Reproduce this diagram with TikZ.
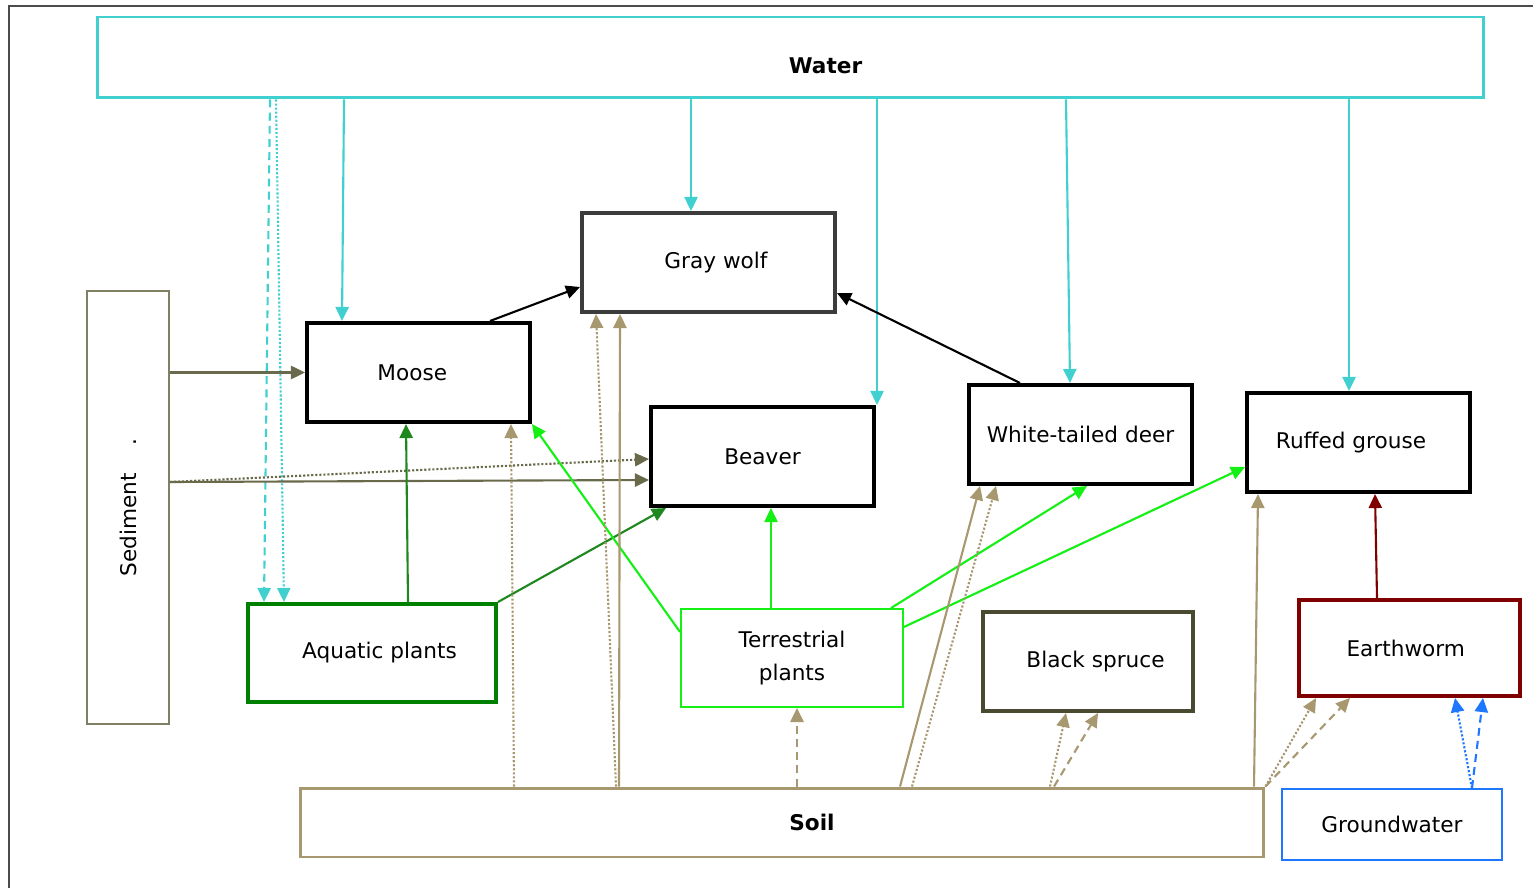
\documentclass[tikz,border=0pt]{standalone}
\usepackage{fontspec}
\setmainfont{DejaVu Sans}
\usetikzlibrary{arrows.meta}
\newcommand\fsz{\fontsize{12.3}{19}\selectfont}
\definecolor{watercol}{RGB}{64,208,208}
\definecolor{wolfcol}{RGB}{60,60,60}
\definecolor{sedcol}{RGB}{128,128,100}
\definecolor{sedarr}{RGB}{105,105,75}
\definecolor{aqcol}{RGB}{0,128,0}
\definecolor{aqarr}{RGB}{30,135,30}
\definecolor{terrcol}{RGB}{20,240,20}
\definecolor{sprucecol}{RGB}{74,74,50}
\definecolor{wormcol}{RGB}{128,0,0}
\definecolor{soilcol}{RGB}{168,152,112}
\definecolor{gwcol}{RGB}{30,120,255}
\begin{document}
\begin{tikzpicture}[x=0.02cm,y=-0.02cm,
  every node/.style={font=\fsz},
  box/.style={draw,line width=2.3pt,minimum width=4.46cm,minimum height=1.98cm,inner sep=0pt},
  con/.style={line width=1.2pt,-{Triangle[length=8pt,width=7.5pt]}},
  dotln/.style={dash pattern=on 1.2pt off 1.1pt},
  dashln/.style={dash pattern=on 4.5pt off 3pt}]
\useasboundingbox (0,0) rectangle (1533,888);
\draw[line width=1.4pt,black!70] (9,888) -- (9,6) -- (1533,6);

\node[box,draw=watercol,line width=1.7pt,minimum width=27.74cm,minimum height=1.62cm,
  label={[xshift=0.7cm,yshift=-0.17cm,font=\fsz\bfseries]center:Water}] (water) at (790.5,57.5) {};
\node[box,draw=wolfcol,minimum width=5.06cm] (wolf) at (708.5,262.5) {\hspace{0.3cm}Gray wolf};
\node[box] (moose) at (418.5,372.5) {Moose\kern0.25cm};
\node[box] (beaver) at (762.5,456.5) {Beaver};
\node[box] (deer) at (1080.5,434.5) {White-tailed deer};
\node[box] (grouse) at (1358.5,442.5) {Ruffed grouse\kern0.3cm};
\node[box,draw=sedcol,line width=1.1pt,minimum width=1.64cm,minimum height=8.66cm,
  label={[rotate=90]center:Sediment\hspace{1.3em}.}] (sediment) at (128,507.5) {};
\node[box,draw=aqcol,minimum width=4.96cm,minimum height=1.96cm] (aquatic) at (372,653) {\hspace{0.3cm}Aquatic plants};
\node[box,draw=terrcol,line width=1.1pt,minimum width=4.44cm,minimum height=1.96cm,align=center] (terr) at (792,658) {Terrestrial\\plants};
\node[box,draw=sprucecol,minimum width=4.2cm] (spruce) at (1088,661.5) {\hspace{0.3cm}Black spruce};
\node[box,draw=wormcol,minimum width=4.42cm,minimum height=1.92cm] (worm) at (1409.5,648) {Earthworm\kern0.15cm};
\node[box,draw=soilcol,line width=1.7pt,minimum width=19.28cm,minimum height=1.38cm,
  label={[xshift=0.6cm,font=\fsz\bfseries]center:Soil}] (soil) at (782,822.5) {};
\node[box,draw=gwcol,line width=1.1pt,minimum width=4.4cm,minimum height=1.42cm] (ground) at (1392,824.5) {Groundwater};

% water
\draw[con,watercol,dashln] (water.south -| 270,0) -- (aquatic.north -| 264,0);
\draw[con,watercol,dotln] (water.south -| 276,0) -- (aquatic.north -| 284,0);
\draw[con,watercol] (water.south -| 344,0) -- (moose.north -| 342,0);
\draw[con,watercol] (water.south -| 1066,0) -- (deer.north -| 1070,0);
\foreach \x/\n in {691/wolf,877/beaver,1349/grouse}
  \draw[con,watercol] (water.south -| \x,0) -- (\n.north -| \x,0);

% predators
\draw[con,black] (moose.north -| 490,0) -- (wolf.west |- 0,287);
\draw[con,black] (deer.north -| 1020,0) -- (wolf.east |- 0,293);

% sediment
\draw[con,sedarr] (sediment.east |- moose.west) -- (moose.west);
\draw[con,sedarr] (sediment.east |- 0,482) -- (beaver.west |- 0,480);
\draw[con,sedarr,dotln] (sediment.east |- 0,482) -- (beaver.west |- 0,459);

% plants
\draw[con,aqarr] (aquatic.north -| 408,0) -- (moose.south -| 406,0);
\draw[con,aqarr] (aquatic.north east) -- (beaver.south -| 666,0);
\draw[con,terrcol] (terr.west |- 0,632) -- (moose.south east);
\draw[con,terrcol] (terr.north -| 771,0) -- (beaver.south -| 771,0);
\draw[con,terrcol] (terr.north -| 891,0) -- (deer.south -| 1087,0);
\draw[con,terrcol] (terr.east |- 0,627) -- (grouse.west |- 0,467);

% soil
\draw[con,soilcol,dotln] (soil.north -| 514,0) -- (moose.south -| 511,0);
\draw[con,soilcol,dotln] (soil.north -| 616,0) -- (wolf.south -| 596,0);
\draw[con,soilcol] (soil.north -| 619,0) -- (wolf.south -| 620,0);
\draw[con,soilcol,dashln] (soil.north -| 797,0) -- (terr.south -| 797,0);
\draw[con,soilcol] (soil.north -| 900,0) -- (deer.south -| 980,0);
\draw[con,soilcol,dotln] (soil.north -| 912,0) -- (deer.south -| 996,0);
\draw[con,soilcol,dotln] (soil.north -| 1050,0) -- (spruce.south -| 1066,0);
\draw[con,soilcol,dashln] (soil.north -| 1054,0) -- (spruce.south -| 1098,0);
\draw[con,soilcol] (soil.north -| 1254,0) -- (grouse.south -| 1258,0);
\draw[con,soilcol,dotln] (soil.north east) -- (worm.south -| 1316,0);
\draw[con,soilcol,dashln] (soil.north east) -- (worm.south -| 1350,0);

% groundwater, earthworm
\draw[con,gwcol,dotln] (ground.north -| 1472,0) -- (worm.south -| 1455,0);
\draw[con,gwcol,dashln] (ground.north -| 1472,0) -- (worm.south -| 1483,0);
\draw[con,wormcol] (worm.north -| 1377,0) -- (grouse.south -| 1375,0);
\end{tikzpicture}
\end{document}
